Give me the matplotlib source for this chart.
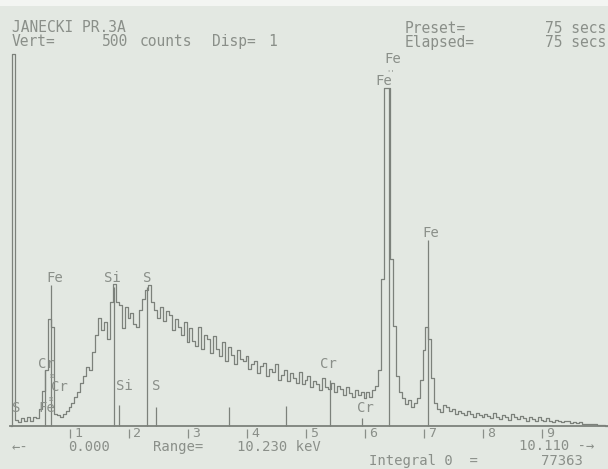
import numpy as np
import matplotlib
matplotlib.use("Agg")
import matplotlib.pyplot as plt

# ---------------- data ----------------
channel_width_kev = 0.05
counts = [
    # 0.00 - 0.95 keV
    0, 480, 8, 5, 10, 6, 11, 7, 12, 10, 22, 45, 72, 138, 128, 16, 14, 12, 16, 20,
    # 1.00 - 1.95
    24, 30, 38, 44, 56, 64, 76, 72, 96, 118, 140, 124, 134, 112, 160, 183, 160, 156, 126, 154,
    # 2.00 - 2.95
    140, 146, 132, 128, 150, 164, 176, 182, 160, 150, 140, 154, 136, 148, 144, 124, 138, 128, 118, 134,
    # 3.00 - 3.95
    108, 126, 110, 104, 128, 100, 118, 112, 94, 116, 100, 90, 108, 84, 102, 92, 80, 98, 86, 84,
    # 4.00 - 4.95
    90, 74, 80, 84, 68, 78, 82, 64, 74, 70, 80, 60, 66, 72, 58, 68, 62, 56, 70, 54,
    # 5.00 - 5.95
    60, 64, 50, 58, 54, 46, 62, 50, 48, 56, 44, 52, 48, 40, 50, 42, 38, 46, 40, 44,
    # 6.00 - 6.95
    36, 44, 38, 46, 52, 72, 190, 437, 437, 216, 129, 65, 44, 36, 28, 34, 24, 30, 36, 60,
    # 7.00 - 7.95
    98, 128, 112, 62, 30, 22, 18, 27, 24, 19, 22, 16, 20, 17, 14, 19, 15, 12, 17, 14,
    # 8.00 - 8.95
    11, 16, 13, 10, 17, 12, 9, 14, 12, 8, 15, 11, 9, 13, 10, 7, 12, 9, 7, 11,
    # 9.00 - 9.95
    8, 6, 10, 7, 5, 8, 7, 5, 6, 7, 4, 5, 4, 5, 3, 3, 2, 3, 2, 1,
    # 10.00 - 10.10
    1, 1, 0,
]
energy = np.arange(len(counts)) * channel_width_kev

# KLM line markers
marker_energy = [0.57, 0.68, 1.74, 1.83, 2.31, 2.46, 3.69, 4.66, 5.41, 5.95, 6.40, 7.06]
marker_height = [72, 182, 180, 27, 180, 25, 25, 26, 59, 10, 437, 240]

tick_kev = [1, 2, 3, 4, 5, 6, 7, 8, 9]
tick_labels = ["1", "2", "3", "4", "5", "6", "7", "8", "9"]

# ---------------- layout helpers ----------------
W, H = 608, 469
BASE_PX = 426.0      # baseline pixel row
PX_PER_COUNT = 0.774
X0_PX, PX_PER_KEV = 11.0, 59.0

def x2e(px):
    return (px - X0_PX) / PX_PER_KEV

def y2c(py):
    return (BASE_PX - py) / PX_PER_COUNT

def P(x, y):
    return (x / W, 1 - y / H)

BG = "#e3e8e2"
INK = "#7c817b"
TXT = "#8a8f89"
FONT = "DejaVu Sans Mono"

fig = plt.figure(figsize=(W / 100, H / 100), dpi=100, facecolor=BG)
ax = fig.add_axes([0, 0, 1, 1])
ax.set_facecolor("none")
ax.set_xlim(x2e(0), x2e(W))
ax.set_ylim(y2c(H), y2c(0))
ax.axis("off")

# light strip at the top of the scan
fig.patches.append(plt.Rectangle((0, 1 - 6 / H), 1, 6 / H, transform=fig.transFigure,
                                 facecolor="#f3f5f2", edgecolor="none"))

# spectrum
ax.plot(energy, counts, drawstyle="steps-mid", color=INK, lw=0.9)

# markers
ax.vlines(marker_energy, 0, marker_height, color=INK, lw=0.9)

# baseline
ax.plot([x2e(10), x2e(W)], [0, 0], color=INK, lw=1.3)

# ticks under the baseline
ax.vlines(tick_kev, y2c(429), y2c(438), color=TXT, lw=0.9)

def txt(x, y, s, size=10.5, ha="left"):
    fig.text(*P(x, y), s, ha=ha, va="baseline", fontsize=size, family=FONT, color=TXT)

for k, lab in zip(tick_kev, tick_labels):
    px = X0_PX + PX_PER_KEV * k
    txt(px + 4, 437, lab, size=9.5)

# header
txt(12, 32, "JANECKI PR.3A")
txt(12, 46, "Vert=")
txt(102, 46, "500")
txt(140, 46, "counts")
txt(212, 46, "Disp=")
txt(268, 46, "1")
txt(405, 33, "Preset=")
txt(545, 33, "75 secs")
txt(405, 47, "Elapsed=")
txt(545, 47, "75 secs")

# footer
txt(12, 451, "←-", size=10)
txt(68, 451, "0.000", size=10)
txt(153, 451, "Range=", size=10)
txt(237, 451, "10.230 keV", size=10)
txt(519, 450, "10.110 -→", size=10)
txt(369, 465, "Integral 0  =", size=10)
txt(541, 465, "77363", size=10)

# element labels
labels = [
    ("S", 16, 412), ("Fe", 47, 412), ("Cr", 46, 368), ("Cr", 59, 391),
    ("Fe", 55, 282), ("Si", 112, 282), ("S", 147, 282),
    ("Si", 124, 390), ("S", 156, 390),
    ("Cr", 328, 368), ("Cr", 365, 412),
    ("Fe", 384, 85), ("Fe", 393, 63), ("Fe", 431, 237),
]
for s, x, y in labels:
    txt(x, y, s, ha="center", size=10)
txt(52, 378, "≡", size=5, ha="center")
txt(51, 401, "≡", size=5, ha="center")
txt(391, 74.5, "''", size=5, ha="center")

fig.savefig("out.png", dpi=100, facecolor=BG)
